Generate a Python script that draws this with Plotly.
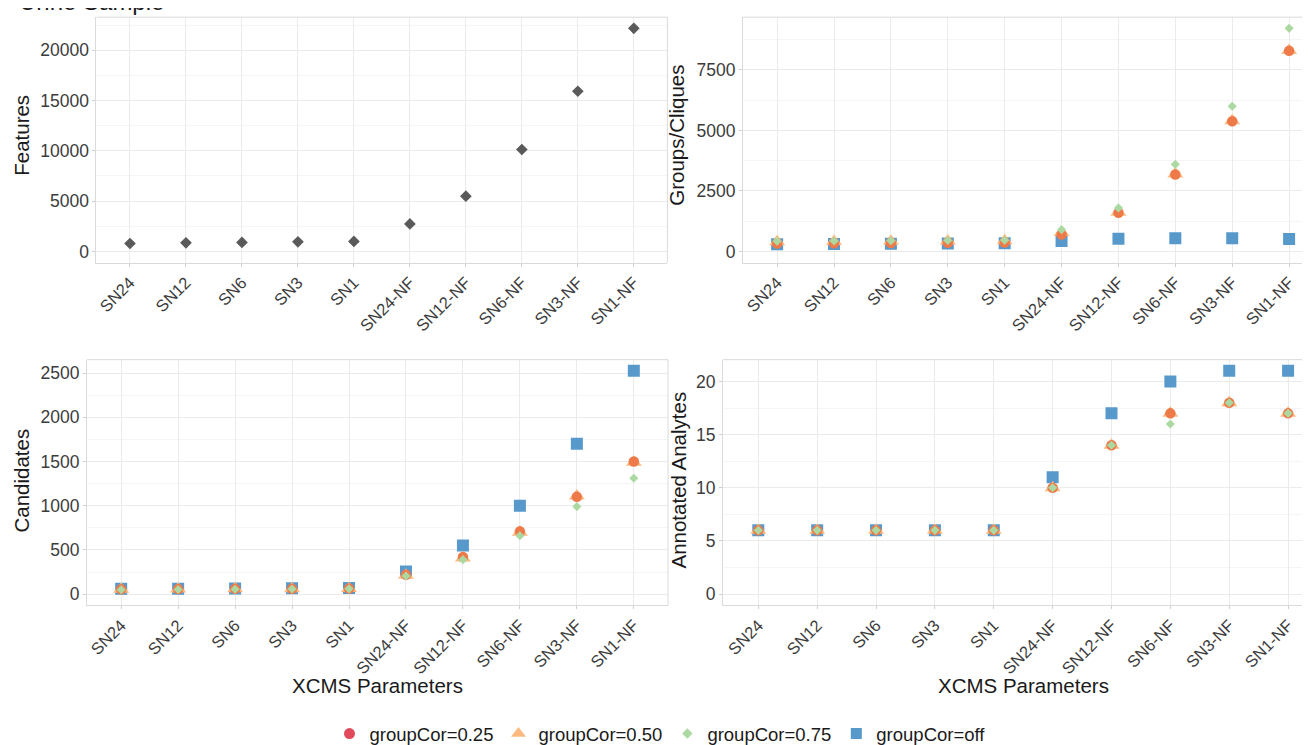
import plotly.graph_objects as go

W, H = 1310, 745

categories = ["SN24", "SN12", "SN6", "SN3", "SN1",
              "SN24-NF", "SN12-NF", "SN6-NF", "SN3-NF", "SN1-NF"]

features = [790, 855, 890, 955, 990, 2730, 5490, 10130, 15920, 22170]

groups_025 = [330, 340, 350, 360, 370, 700, 1600, 3180, 5380, 8290]
groups_050 = [400, 410, 420, 430, 440, 780, 1620, 3200, 5400, 8300]
groups_075 = [420, 430, 440, 450, 460, 900, 1800, 3600, 6000, 9220]
groups_off = [300, 310, 320, 330, 340, 430, 520, 540, 540, 510]

cand_025 = [55, 58, 60, 62, 65, 220, 420, 710, 1100, 1500]
cand_050 = [55, 58, 60, 62, 65, 215, 410, 700, 1110, 1490]
cand_075 = [50, 52, 55, 58, 60, 205, 390, 660, 990, 1310]
cand_off = [60, 62, 65, 68, 70, 255, 550, 1000, 1700, 2525]

ann_025 = [6, 6, 6, 6, 6, 10, 14, 17, 18, 17]
ann_050 = [6, 6, 6, 6, 6, 10, 14, 17, 18, 17]
ann_075 = [6, 6, 6, 6, 6, 10, 14, 16, 18, 17]
ann_off = [6, 6, 6, 6, 6, 11, 17, 20, 21, 21]

series_names = ["groupCor=0.25", "groupCor=0.50", "groupCor=0.75", "groupCor=off"]

FONT = "Liberation Sans, Arial, sans-serif"
C_CIRCLE_PLOT = "#EE7A4A"
C_CIRCLE_LEG = "#E04A5C"
C_TRI = "#FCBA80"
C_DIA = "#ABD9A1"
C_SQ = "#5799CB"


def px_x(p):
    return p / W


def px_y(p):
    return 1 - p / H


# domains in pixels: (left, right, top, bottom)
panels = {
    1: (88.4, 659.4, 9.3, 257.0),
    2: (735.0, 1310.0, 9.3, 257.0),
    3: (79.0, 660.0, 355.0, 603.0),
    4: (715.0, 1310.0, 355.0, 603.0),
}

fig = go.Figure()

# legend-only entries
for name, sym, col, sz in [(series_names[0], "circle", C_CIRCLE_LEG, 11),
                           (series_names[1], "triangle-up", C_TRI, 13),
                           (series_names[2], "diamond", C_DIA, 8),
                           (series_names[3], "square", C_SQ, 11)]:
    fig.add_trace(go.Scatter(x=[None], y=[None], mode="markers", name=name,
                             marker=dict(symbol=sym, color=col, size=sz),
                             xaxis="x3", yaxis="y3", showlegend=True))

# panel 1
fig.add_trace(go.Scatter(x=categories, y=features, mode="markers",
                         marker=dict(symbol="diamond", color="#5A5A5A", size=9),
                         xaxis="x", yaxis="y", showlegend=False))


def add_group(xa, ya, off, v025, v050, v075):
    fig.add_trace(go.Scatter(x=categories, y=off, mode="markers",
                             marker=dict(symbol="square", color=C_SQ, size=12),
                             xaxis=xa, yaxis=ya, showlegend=False))
    fig.add_trace(go.Scatter(x=categories, y=v050, mode="markers",
                             marker=dict(symbol="triangle-up", color=C_TRI, size=14),
                             xaxis=xa, yaxis=ya, showlegend=False))
    fig.add_trace(go.Scatter(x=categories, y=v025, mode="markers",
                             marker=dict(symbol="circle", color=C_CIRCLE_PLOT, size=10.5),
                             xaxis=xa, yaxis=ya, showlegend=False))
    fig.add_trace(go.Scatter(x=categories, y=v075, mode="markers",
                             marker=dict(symbol="diamond", color=C_DIA, size=7),
                             xaxis=xa, yaxis=ya, showlegend=False))


add_group("x2", "y2", groups_off, groups_025, groups_050, groups_075)
add_group("x3", "y3", cand_off, cand_025, cand_050, cand_075)
add_group("x4", "y4", ann_off, ann_025, ann_050, ann_075)

ymax = {
    1: max(features),
    2: max(groups_025 + groups_050 + groups_075 + groups_off),
    3: max(cand_025 + cand_050 + cand_075 + cand_off),
    4: max(ann_025 + ann_050 + ann_075 + ann_off),
}
ydtick = {1: 5000, 2: 2500, 3: 500, 4: 5}

layout = {}
for i, (l, r, t, b) in panels.items():
    sfx = "" if i == 1 else str(i)
    xr = [-0.6, 9.6] if i in (1, 3) else [-0.6, 9.508]
    layout["xaxis" + sfx] = dict(
        domain=[px_x(l), px_x(r)], anchor="y" + sfx,
        type="category", categoryorder="array", categoryarray=categories,
        range=xr, tickangle=-45, showgrid=True, gridcolor="#EBEBEB", gridwidth=1,
        ticks="outside", ticklen=3, tickcolor="#CFCFCF",
        showline=True, linecolor="#DADADA", linewidth=1,
        tickfont=dict(family=FONT, size=16.5, color="#3C3C3C"),
        automargin=False, zeroline=False, fixedrange=True,
    )
    m = ymax[i]
    layout["yaxis" + sfx] = dict(
        domain=[px_y(b), px_y(t)], anchor="x" + sfx,
        range=[-0.05 * m, 1.05 * m], dtick=ydtick[i], tick0=0, tickformat="d",
        showgrid=True, gridcolor="#EBEBEB", gridwidth=1,
        minor=dict(dtick=ydtick[i] / 2, showgrid=True, gridcolor="#F5F5F5", gridwidth=1),
        ticks="outside", ticklen=3, tickcolor="#CFCFCF",
        showline=True, linecolor="#DADADA", linewidth=1,
        tickfont=dict(family=FONT, size=17.5, color="#3C3C3C"),
        automargin=False, zeroline=False, fixedrange=True,
    )

shapes = []
for i in panels:
    sfx = "" if i == 1 else str(i)
    shapes.append(dict(type="line", xref="x%s domain" % sfx, yref="y%s domain" % sfx,
                       x0=0, x1=1, y0=1, y1=1, line=dict(color="#DADADA", width=1)))
    if i in (1, 3):
        shapes.append(dict(type="line", xref="x%s domain" % sfx, yref="y%s domain" % sfx,
                           x0=1, x1=1, y0=0, y1=1, line=dict(color="#DADADA", width=1)))

annotations = []
TF = dict(family=FONT, size=20.5, color="#1A1A1A")
for text, x, y in [("Features", 14, 129), ("Groups/Cliques", 669, 129),
                   ("Candidates", 14, 477), ("Annotated Analytes", 671, 477)]:
    annotations.append(dict(text=text, x=px_x(x), y=px_y(y), xref="paper", yref="paper",
                            showarrow=False, textangle=-90, font=TF,
                            xanchor="center", yanchor="middle"))
for x in (369.5, 1015):
    annotations.append(dict(text="XCMS Parameters", x=px_x(x), y=px_y(684), xref="paper",
                            yref="paper", showarrow=False, font=TF,
                            xanchor="center", yanchor="middle"))
annotations.append(dict(text="Urine Sample", x=px_x(9), y=px_y(-7), xref="paper",
                        yref="paper", showarrow=False,
                        font=dict(family=FONT, size=24, color="#1A1A1A"),
                        xanchor="left", yanchor="middle"))

fig.update_layout(
    width=W, height=H,
    margin=dict(l=0, r=0, t=0, b=0),
    paper_bgcolor="white", plot_bgcolor="white",
    showlegend=True,
    legend=dict(orientation="h", x=px_x(652), y=px_y(733), xanchor="center",
                yanchor="middle", font=dict(family=FONT, size=18.5, color="#1A1A1A"),
                itemwidth=30, tracegroupgap=0, bgcolor="rgba(0,0,0,0)"),
    shapes=shapes, annotations=annotations,
    **layout,
)

fig.write_html("out.html")
